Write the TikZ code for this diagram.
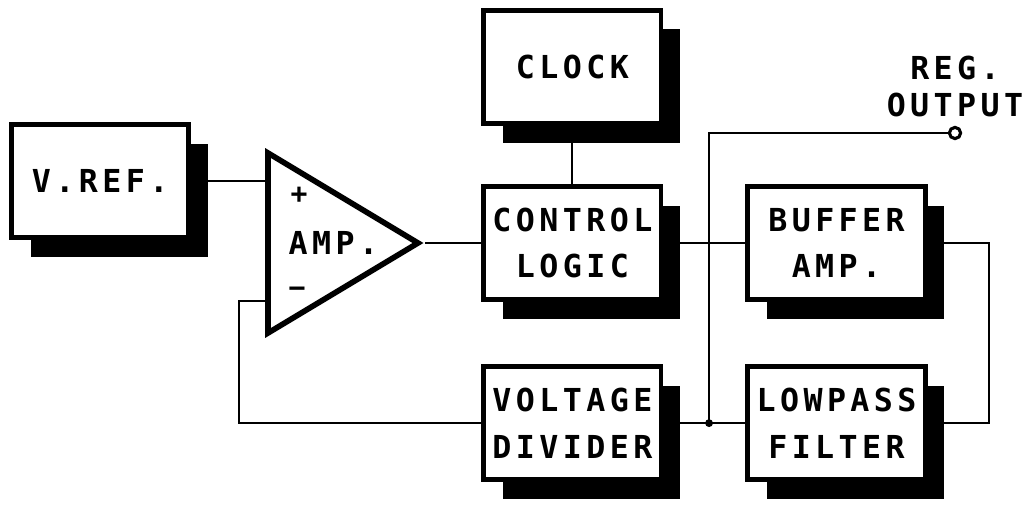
\documentclass[tikz,border=0pt]{standalone}
\usepackage{fontspec}
\usetikzlibrary{positioning, shapes.geometric, shadows}
\newfontfamily\blockfont[LetterSpace=14]{DejaVu Sans Mono}

\begin{document}
\begin{tikzpicture}[
    node distance=2.05cm,
    block/.style={draw, line width=3.5pt, fill=white,
      minimum width=4.43cm, minimum height=2.83cm, align=center,
      font=\blockfont\bfseries\fontsize{22.5}{33}\selectfont,
      general shadow={shadow xshift=0.48cm, shadow yshift=-0.48cm, fill=black}},
    opamp/.style={draw, line width=4pt, isosceles triangle, isosceles triangle stretches,
      minimum width=4.5cm, minimum height=3.75cm, inner sep=0pt},
    sign/.style={font=\blockfont\bfseries\fontsize{20}{20}\selectfont, inner sep=0pt},
    amptext/.style={font=\blockfont\bfseries\fontsize{22.5}{26}\selectfont, inner sep=0pt},
    wire/.style={line width=1.4pt},
    terminal/.style={draw, circle, fill=white, line width=2.2pt, minimum size=8pt, inner sep=0pt},
    tag/.style={align=center, font=\blockfont\bfseries\fontsize{22.5}{26}\selectfont}
  ]
  \useasboundingbox (0,0) rectangle (25.8,12.675);

  % blocks
  \node[block] (control) at (14.31,6.6) {CONTROL\\LOGIC};
  \node[block, above=1.45cm of control] (clock) {CLOCK};
  \node[block, below=1.55cm of control] (divider) {VOLTAGE\\DIVIDER};
  \node[block, right=of control] (buffer) {BUFFER\\AMP.};
  \node[block, right=of divider] (lowpass) {LOWPASS\\FILTER};

  % amplifier
  \node[opamp, left=1.4cm of control] (amp) {};
  \coordinate (inplus) at ([yshift=1.55cm]amp.west);
  \coordinate (inminus) at ([yshift=-1.45cm]amp.west);
  \node[sign] (plus) at ([shift={(0.85,1.18)}]amp.west) {+};
  \node[amptext, anchor=west] (amplabel) at ([xshift=0.58cm]amp.west) {AMP.};
  \node[sign] (minus) at ([shift={(0.8,-1.22)}]amp.west) {−};

  \node[block, left=1.85cm of inplus] (vref) {V.REF.};

  % connections
  \draw[wire] ([xshift=0.42cm]vref.east) -- (inplus);
  \draw[wire] (amp.apex) -- (control.west);
  \draw[wire] ([yshift=-0.42cm]clock.south) -- (control.north);
  \draw[wire] ([xshift=0.42cm]control.east) -- (buffer.west);
  \draw[wire] (divider.west) -| ([xshift=-0.65cm]inminus) -- (inminus);
  \draw[wire] ([xshift=0.42cm]divider.east) -- (lowpass.west);
  \draw[wire] ([xshift=0.42cm]buffer.east) -- ++(1.12,0) |- ([xshift=0.42cm]lowpass.east);

  % output
  \coordinate (tap) at ([xshift=1.14cm]divider.east);
  \fill (tap) circle (2.8pt);
  \node[terminal] (outpin) at (23.875,9.35) {};
  \draw[wire] (tap) |- (outpin);
  \node[tag, above=0.1cm of outpin] (regout) {REG.\\OUTPUT};
\end{tikzpicture}
\end{document}
